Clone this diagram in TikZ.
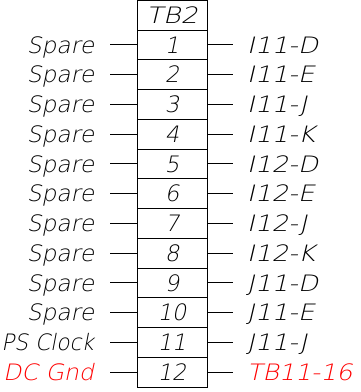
\documentclass[tikz,border=0pt]{standalone}
\usepackage{fontspec}
\usepackage{graphicx}
\IfFontExistsTF{DejaVu Sans ExtraLight}
  {\newfontfamily\cad[FakeSlant=0.2]{DejaVu Sans ExtraLight}}
  {\newfontfamily\cad[FakeSlant=0.2]{DejaVu Sans}}
\definecolor{cadred}{RGB}{255,0,0}
\begin{document}
\begin{tikzpicture}[x=1pt,y=-1pt,line width=0.9pt,
  cadtext/.style={font=\cad\fontsize{22.6}{24}\selectfont,inner sep=0pt,text height=16.5pt,text depth=0pt},
  cell/.style={cadtext,draw,minimum width=70pt,minimum height=29.75pt},
  leftlab/.style={cadtext,anchor=east},
  rightlab/.style={cadtext,anchor=west}]
\useasboundingbox (0,0) rectangle (360,392);
\node[cell,minimum height=29.4pt] (head) at (172,15.3) {\scalebox{1.2}[1]{TB2}};
\foreach \i/\l/\ls/\r/\rs/\c in {1/Spare/1.03/I11-D/1.17/black,2/Spare/1.03/I11-E/1.17/black,3/Spare/1.03/I11-J/1.17/black,4/Spare/1.03/I11-K/1.17/black,5/Spare/1.03/I12-D/1.17/black,6/Spare/1.03/I12-E/1.17/black,7/Spare/1.03/I12-J/1.17/black,8/Spare/1.03/I12-K/1.17/black,9/Spare/1.03/J11-D/1.17/black,10/Spare/1.03/J11-E/1.17/black,11/PS Clock/0.96/J11-J/1.17/black,12/DC Gnd/1.05/TB11-16/1.12/cadred}{
  \pgfmathsetmacro{\yc}{30+29.75*(\i-0.5)}
  \node[cell] (c\i) at (172,\yc) {\i};
  \coordinate (ls\i) at (110,\yc);
  \coordinate (rs\i) at (233,\yc);
  \draw (ls\i) -- (c\i.west);
  \draw (c\i.east) -- (rs\i);
  \node[leftlab,text=\c] (L\i) at (94.5,\yc) {\scalebox{\ls}[1]{\l}};
  \node[rightlab,text=\c] (R\i) at (246.5,\yc) {\scalebox{\rs}[1]{\r}};
}
\end{tikzpicture}
\end{document}
